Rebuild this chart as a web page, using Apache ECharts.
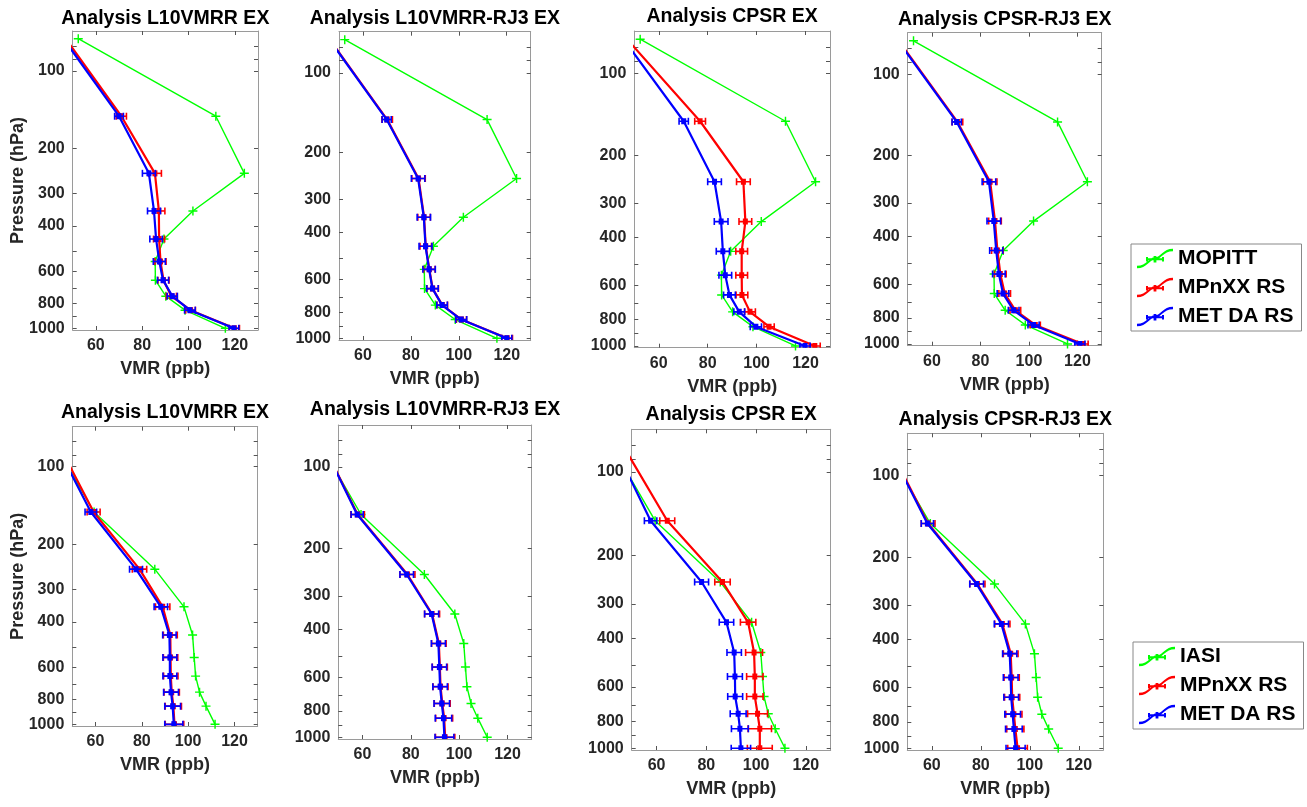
<!DOCTYPE html>
<html><head><meta charset="utf-8">
<script src="https://cdn.jsdelivr.net/npm/echarts@6/dist/echarts.min.js"></script>
<style>html,body{margin:0;padding:0;background:#fff}#c{width:1307px;height:807px}</style>
</head><body><div id="c"></div>
<script>
// ---------- data ----------
const levels = [75, 150, 250, 350, 450, 550, 650, 750, 850, 1000];
const panelTitles = ['Analysis L10VMRR EX', 'Analysis L10VMRR-RJ3 EX', 'Analysis CPSR EX', 'Analysis CPSR-RJ3 EX',
                     'Analysis L10VMRR EX', 'Analysis L10VMRR-RJ3 EX', 'Analysis CPSR EX', 'Analysis CPSR-RJ3 EX'];
const xTickValues = [60, 80, 100, 120];
const yLabelValues = [100, 200, 300, 400, 600, 800, 1000];
const yTickValues = [80, 90, 100, 200, 300, 400, 500, 600, 700, 800, 900, 1000];

// satellite retrievals
const mopitt = [52.4, 111.8, 124.1, 101.9, 89.4, 85.6, 85.7, 90.2, 98.5, 115.9];
const iasi   = [40.0, 59.4, 85.6, 98.2, 101.9, 102.6, 103.2, 104.9, 107.7, 111.6];

// top row (vs MOPITT)
const mpL10Top     = [47.0, 71.0, 85.5, 87.2, 87.3, 87.9, 89.2, 92.6, 100.9, 119.8];
const metL10Top    = [46.0, 70.0, 82.9, 85.1, 86.0, 87.4, 89.0, 93.0, 100.6, 119.6];
const mpL10RJ3Top  = [46.2, 70.1, 83.2, 85.5, 86.2, 87.7, 89.1, 93.1, 101.1, 120.2];
const metL10RJ3Top = [46.0, 69.9, 83.0, 85.4, 86.1, 87.6, 89.0, 93.0, 101.0, 120.0];
const mpCPSRTop    = [47.0, 76.9, 94.6, 95.4, 93.9, 93.9, 94.0, 97.3, 105.1, 123.8];
const metCPSRTop   = [45.6, 70.2, 82.8, 85.5, 86.2, 87.2, 88.9, 92.9, 99.7, 119.8];
const mpCPSRRJ3Top = [46.3, 70.5, 84.0, 86.0, 87.0, 88.2, 90.0, 94.4, 102.6, 122.2];
const metCPSRRJ3Top= [46.0, 70.2, 83.5, 85.5, 86.5, 87.6, 89.3, 93.7, 101.9, 121.0];

// bottom row (vs IASI)
const mpL10Bot     = [41.8, 59.2, 79.0, 89.0, 92.3, 92.4, 92.5, 92.9, 93.6, 94.1];
const metL10Bot    = [40.8, 58.0, 77.5, 88.2, 91.9, 92.1, 92.1, 92.6, 93.3, 93.8];
const mpL10RJ3Bot  = [41.5, 58.0, 78.6, 88.8, 91.6, 92.0, 92.3, 93.0, 93.8, 94.2];
const metL10RJ3Bot = [41.3, 57.8, 78.3, 88.6, 91.4, 91.8, 92.1, 92.8, 93.5, 93.9];
const mpCPSRBot    = [44.6, 64.3, 86.5, 96.8, 99.2, 99.5, 99.5, 100.6, 101.5, 101.5];
const metCPSRBot   = [41.4, 57.6, 78.1, 88.1, 91.2, 91.5, 91.6, 92.8, 93.5, 93.9];
const mpCPSRRJ3Bot = [41.5, 58.5, 78.6, 88.8, 92.2, 92.6, 92.8, 93.5, 94.1, 95.0];
const metCPSRRJ3Bot= [41.2, 58.2, 78.3, 88.4, 91.8, 92.2, 92.4, 93.0, 93.5, 94.2];

// error bar half-widths (ppb)
const errMPTop   = [0, 2.2, 2.8, 2.6, 2.4, 2.4, 2.4, 2.2, 2.1, 2.2];
const errMETTop  = [0, 1.9, 2.8, 2.8, 2.7, 2.6, 2.4, 2.2, 2.3, 2.1];
const errMPBot   = [0, 2.8, 3.1, 3.1, 3.0, 3.1, 3.1, 3.3, 3.5, 4.0];
const errMETBot  = [0, 2.5, 2.8, 2.9, 2.9, 3.0, 3.0, 3.2, 3.4, 3.9];
const errMPCPSRBot = [0, 3.0, 3.1, 3.1, 3.4, 3.3, 3.3, 4.0, 4.7, 5.0];

const satSeries = [mopitt, mopitt, mopitt, mopitt, iasi, iasi, iasi, iasi];
const satNames  = ['MOPITT', 'MOPITT', 'MOPITT', 'MOPITT', 'IASI', 'IASI', 'IASI', 'IASI'];
const mpSeries  = [mpL10Top, mpL10RJ3Top, mpCPSRTop, mpCPSRRJ3Top, mpL10Bot, mpL10RJ3Bot, mpCPSRBot, mpCPSRRJ3Bot];
const metSeries = [metL10Top, metL10RJ3Top, metCPSRTop, metCPSRRJ3Top, metL10Bot, metL10RJ3Bot, metCPSRBot, metCPSRRJ3Bot];
const mpErr  = [errMPTop, errMPTop, errMPTop, errMPTop, errMPBot, errMPBot, errMPCPSRBot, errMPBot];
const metErr = [errMETTop, errMETTop, errMETTop, errMETTop, errMETBot, errMETBot, errMETBot, errMETBot];

// ---------- layout ----------
const grids = [
  {left: 72.7, top: 31.0, width: 185.3, height: 299.0},
  {left: 339.0, top: 31.7, width: 191.7, height: 308.3},
  {left: 634.3, top: 31.0, width: 195.7, height: 316.7},
  {left: 907.7, top: 32.7, width: 194.0, height: 313.0},
  {left: 72.3, top: 426.7, width: 185.4, height: 299.3},
  {left: 338.3, top: 425.0, width: 193.4, height: 314.0},
  {left: 631.7, top: 429.3, width: 199.0, height: 320.7},
  {left: 907.3, top: 433.3, width: 196.0, height: 316.7}
];
const titleY = [18.3, 18.3, 16.7, 19.3, 412.7, 410.0, 415.0, 420.0];
const FONT = '"Liberation Sans", Arial, Helvetica, sans-serif';
const C_GREEN = '#00ff00', C_RED = '#ff0000', C_BLUE = '#0000ff';
const BOX = '#9a9a9a', TXT = '#262626';
const plusPath = 'path://M-0.16,-1H0.16V-0.16H1V0.16H0.16V1H-0.16V0.16H-1V-0.16H-0.16Z';
const legendIcon = 'path://M0,17.3C10,17.3 12,8.8 18,8.8C24,8.8 26,0.3 36,0.3L36,2.7C26,2.7 24,11.2 18,11.2C12,11.2 10,19.7 0,19.7Z' +
  'M9,8.6H11V9.8H25V8.6H27V13H25V11.8H11V13H9Z M16.6,7.6H19.4V14H16.6Z';

function errRender(color) {
  return function (params, api) {
    const x = api.value(0), p = api.value(1), e = api.value(2);
    const c = api.coord([x, p]);
    const l = api.coord([x - e, p]);
    const r = api.coord([x + e, p]);
    const h = 3.5;
    const st = {stroke: color, lineWidth: 1.6};
    return {type: 'group', children: [
      {type: 'line', shape: {x1: l[0], y1: c[1], x2: r[0], y2: c[1]}, style: st},
      {type: 'line', shape: {x1: l[0], y1: c[1] - h, x2: l[0], y2: c[1] + h}, style: st},
      {type: 'line', shape: {x1: r[0], y1: c[1] - h, x2: r[0], y2: c[1] + h}, style: st},
      {type: 'rect', shape: {x: c[0] - 2.5, y: c[1] - 3, width: 5, height: 6}, style: {fill: color}}
    ]};
  };
}

const gridOpt = [], xAxes = [], yAxes = [], series = [], graphics = [];
grids.forEach((g, i) => {
  gridOpt.push({left: g.left, top: g.top, width: g.width, height: g.height, containLabel: false});
  const isLeft = (i === 0 || i === 4);
  xAxes.push({
    type: 'value', gridIndex: i, min: 50, max: 130, position: 'bottom',
    axisLine: {show: true, lineStyle: {color: BOX, width: 1}},
    axisTick: {show: true, inside: true, length: 4, customValues: xTickValues, lineStyle: {color: '#555'}},
    axisLabel: {customValues: xTickValues, fontSize: 16, fontWeight: 'bold', color: TXT, fontFamily: FONT, margin: 8,
                formatter: v => String(Math.round(v))},
    splitLine: {show: false},
    name: 'VMR (ppb)', nameLocation: 'middle', nameGap: 30,
    nameTextStyle: {fontSize: 18, fontWeight: 'bold', color: TXT, fontFamily: FONT}
  });
  yAxes.push({
    type: 'log', logBase: 10, gridIndex: i, inverse: true, min: 70, max: 1015, position: 'left',
    axisLine: {show: true, lineStyle: {color: BOX, width: 1}},
    axisTick: {show: true, inside: true, length: 4, customValues: yTickValues, lineStyle: {color: '#555'}},
    axisLabel: {customValues: yLabelValues, fontSize: 16, fontWeight: 'bold', color: TXT, fontFamily: FONT, margin: 8,
                formatter: v => String(Math.round(v))},
    splitLine: {show: false}, minorTick: {show: false}
  });
  graphics.push({
    type: 'text', x: g.left + g.width / 2, y: titleY[i],
    style: {text: panelTitles[i], fontSize: 19.5, fontWeight: 'bold', fontFamily: FONT, fill: '#000',
            textAlign: 'center', textVerticalAlign: 'middle'}
  });
  if (isLeft) {
    graphics.push({
      type: 'text', x: 18.5, y: g.top + g.height / 2, rotation: Math.PI / 2,
      style: {text: 'Pressure (hPa)', fontSize: 18, fontWeight: 'bold', fontFamily: FONT, fill: TXT,
              textAlign: 'center', textVerticalAlign: 'middle'}
    });
  }
  const sat = satSeries[i], mp = mpSeries[i], met = metSeries[i];
  series.push({
    name: satNames[i], type: 'line', xAxisIndex: i, yAxisIndex: i, clip: true,
    data: levels.map((p, k) => [sat[k], p]),
    symbol: plusPath, symbolSize: 9, showSymbol: true,
    itemStyle: {color: C_GREEN}, lineStyle: {color: C_GREEN, width: 1.4}, z: 2, silent: true
  });
  series.push({
    name: 'MPnXX RS', type: 'line', xAxisIndex: i, yAxisIndex: i, clip: true,
    data: levels.map((p, k) => [mp[k], p]), symbol: 'none',
    itemStyle: {color: C_RED}, lineStyle: {color: C_RED, width: 2.2}, z: 3, silent: true
  });
  series.push({
    name: 'MPnXX RS', type: 'custom', xAxisIndex: i, yAxisIndex: i, clip: true,
    renderItem: errRender(C_RED), encode: {x: 0, y: 1},
    data: levels.map((p, k) => [mp[k], p, mpErr[i][k]]).filter((d, k) => k > 0),
    itemStyle: {color: C_RED}, z: 3, silent: true
  });
  series.push({
    name: 'MET DA RS', type: 'line', xAxisIndex: i, yAxisIndex: i, clip: true,
    data: levels.map((p, k) => [met[k], p]), symbol: 'none',
    itemStyle: {color: C_BLUE}, lineStyle: {color: C_BLUE, width: 2.2}, z: 4, silent: true
  });
  series.push({
    name: 'MET DA RS', type: 'custom', xAxisIndex: i, yAxisIndex: i, clip: true,
    renderItem: errRender(C_BLUE), encode: {x: 0, y: 1},
    data: levels.map((p, k) => [met[k], p, metErr[i][k]]).filter((d, k) => k > 0),
    itemStyle: {color: C_BLUE}, z: 4, silent: true
  });
});
// mirror axes (top / right) for the box with inward ticks
grids.forEach((g, i) => {
  xAxes.push({
    type: 'value', gridIndex: i, min: 50, max: 130, position: 'top',
    axisLine: {show: true, onZero: false, lineStyle: {color: BOX, width: 1}},
    axisTick: {show: true, inside: true, length: 4, customValues: xTickValues, lineStyle: {color: '#555'}},
    axisLabel: {show: false}, splitLine: {show: false}
  });
  yAxes.push({
    type: 'log', logBase: 10, gridIndex: i, inverse: true, min: 70, max: 1015, position: 'right',
    axisLine: {show: true, onZero: false, lineStyle: {color: BOX, width: 1}},
    axisTick: {show: true, inside: true, length: 4, customValues: yTickValues, lineStyle: {color: '#555'}},
    axisLabel: {show: false}, splitLine: {show: false}
  });
});

const legendCommon = {
  orient: 'vertical', itemWidth: 36, itemHeight: 20, itemGap: 8,
  borderColor: '#888', borderWidth: 1, backgroundColor: '#fff', padding: [4, 8, 4, 6],
  textStyle: {fontSize: 21, fontWeight: 'bold', color: '#000', fontFamily: FONT},
  selectedMode: false
};

const option = {
  animation: false,
  backgroundColor: '#fff',
  grid: gridOpt,
  xAxis: xAxes,
  yAxis: yAxes,
  legend: [
    Object.assign({}, legendCommon, {left: 1131, top: 244,
      data: ['MOPITT', 'MPnXX RS', 'MET DA RS'].map(n => ({name: n, icon: legendIcon}))}),
    Object.assign({}, legendCommon, {left: 1133, top: 642,
      data: ['IASI', 'MPnXX RS', 'MET DA RS'].map(n => ({name: n, icon: legendIcon}))})
  ],
  graphic: graphics,
  series: series
};
const chart = echarts.init(document.getElementById('c'), null, {renderer: 'canvas'});
chart.setOption(option);
</script></body></html>
